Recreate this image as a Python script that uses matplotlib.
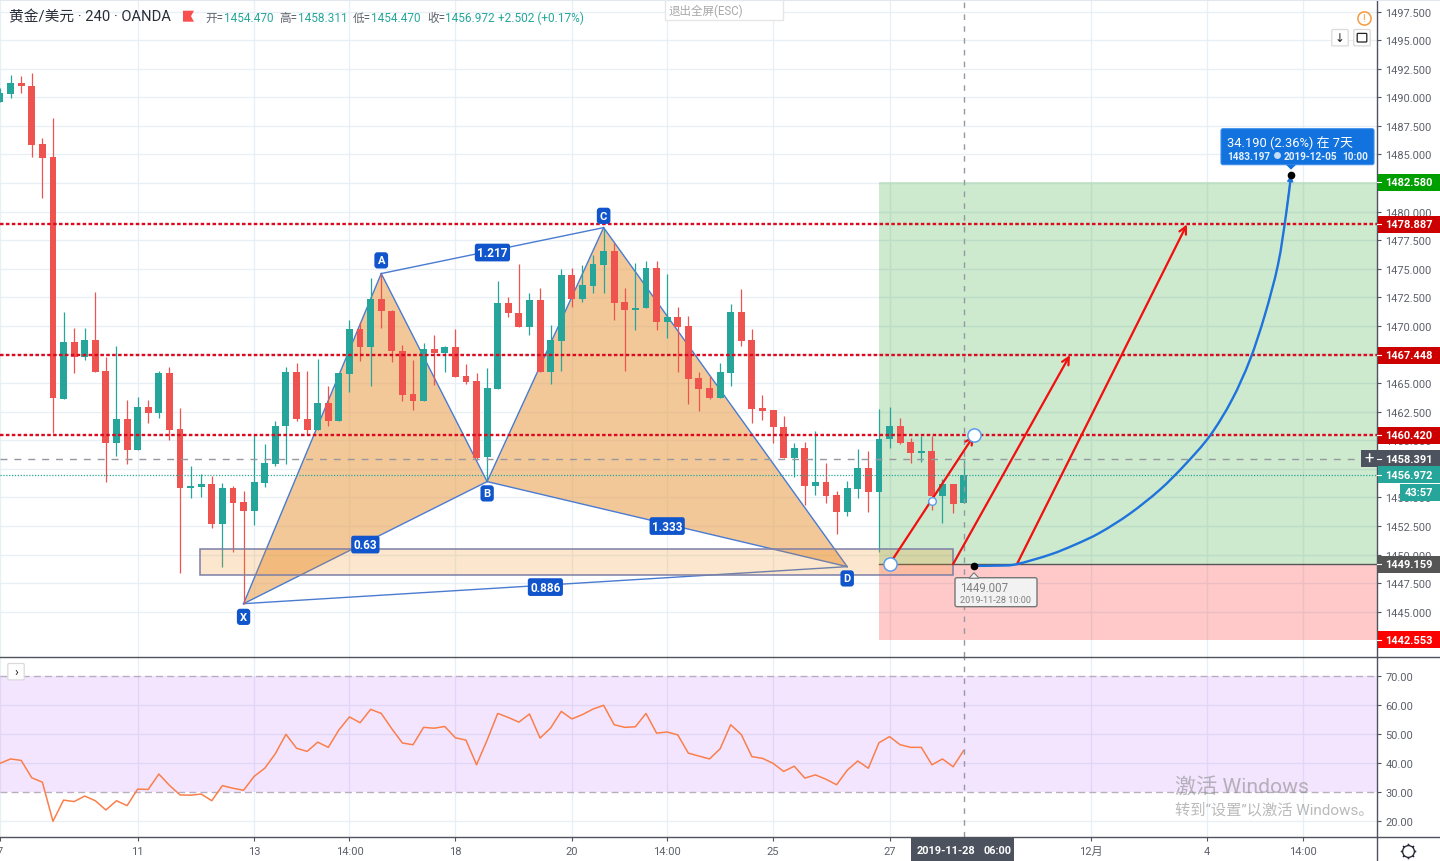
import numpy as np
from matplotlib import pyplot as plt
from matplotlib.patches import Rectangle, FancyBboxPatch, Polygon, PathPatch
from matplotlib.path import Path

plt.rcParams['font.family'] = ['Roboto', 'Noto Sans CJK SC', 'DejaVu Sans']

W, H = 1440, 862
UP = '#26A69A'
DOWN = '#EF5350'
GRID = '#E8F0F6'
AXIS = '#50535E'
TXT = '#5D606B'

# 4h bars
opens = [1489.63, 1490.33, 1491.29, 1491.03, 1485.95, 1484.81, 1463.64, 1468.63, 1467.31, 1468.80,
         1466.09, 1459.79, 1461.89, 1459.18, 1462.94, 1462.41, 1465.91, 1461.01, 1455.85, 1455.94,
         1456.20, 1452.70, 1455.85, 1454.63, 1453.84, 1456.29, 1457.95, 1461.28, 1466.00, 1461.89,
         1460.93, 1463.29, 1461.71, 1465.83, 1469.76, 1468.19, 1472.39, 1471.34, 1467.84, 1464.08,
         1463.46, 1468.01, 1467.66, 1468.19, 1465.65, 1465.21, 1458.56, 1464.51, 1472.04, 1471.16,
         1469.94, 1472.30, 1466.00, 1468.71, 1474.49, 1472.39, 1473.53, 1475.36, 1476.59, 1472.13,
         1471.43, 1471.60, 1475.10, 1470.38, 1470.81, 1470.03, 1465.48, 1464.60, 1463.73, 1465.91,
         1471.25, 1468.80, 1462.85, 1462.68, 1461.19, 1458.48, 1459.35, 1456.03, 1456.38, 1455.24,
         1453.75, 1455.76, 1457.60, 1455.50, 1460.14, 1461.28, 1459.88, 1458.91, 1459.09, 1455.15,
         1456.20, 1454.47]
highs = [1490.85, 1491.99, 1491.90, 1492.16, 1486.48, 1488.23, 1471.25, 1469.85, 1469.85, 1473.00,
         1467.31, 1468.28, 1463.55, 1463.81, 1463.55, 1466.09, 1466.44, 1462.85, 1457.78, 1457.08,
         1456.90, 1456.29, 1456.03, 1455.59, 1460.49, 1459.70, 1461.71, 1466.44, 1466.79, 1466.09,
         1467.14, 1464.78, 1465.91, 1470.55, 1470.38, 1474.23, 1474.58, 1471.43, 1468.36, 1467.05,
         1468.54, 1469.24, 1468.28, 1469.76, 1466.70, 1465.91, 1466.35, 1473.96, 1472.56, 1475.45,
         1472.91, 1473.35, 1470.11, 1475.01, 1475.10, 1475.36, 1476.24, 1478.51, 1477.29, 1473.35,
         1475.54, 1475.71, 1475.71, 1474.58, 1471.69, 1470.90, 1466.00, 1465.65, 1466.79, 1471.95,
         1473.26, 1469.76, 1463.99, 1462.68, 1462.15, 1459.79, 1459.88, 1460.84, 1458.04, 1455.59,
         1456.46, 1459.26, 1459.09, 1462.76, 1462.94, 1461.98, 1460.23, 1460.40, 1460.40, 1456.64,
         1456.20, 1458.311]
lows = [1489.63, 1489.98, 1490.41, 1484.81, 1481.23, 1460.66, 1463.64, 1465.91, 1467.05, 1466.00,
        1456.38, 1458.65, 1457.95, 1459.18, 1461.54, 1461.98, 1460.05, 1448.41, 1454.98, 1455.06,
        1452.35, 1448.94, 1450.25, 1445.70, 1452.61, 1455.94, 1457.78, 1457.95, 1461.71, 1460.49,
        1460.93, 1461.28, 1461.71, 1464.25, 1466.96, 1464.78, 1469.85, 1466.88, 1463.46, 1462.68,
        1463.46, 1464.86, 1466.00, 1465.56, 1464.95, 1458.30, 1456.55, 1464.51, 1470.81, 1469.94,
        1469.24, 1466.00, 1464.95, 1466.09, 1471.69, 1472.13, 1472.91, 1472.91, 1470.55, 1466.09,
        1469.68, 1471.60, 1469.68, 1468.98, 1466.00, 1463.20, 1462.59, 1463.64, 1463.73, 1464.78,
        1468.28, 1461.54, 1461.80, 1459.79, 1458.48, 1456.81, 1454.36, 1455.24, 1454.54, 1451.83,
        1453.40, 1454.98, 1453.75, 1450.25, 1459.35, 1459.70, 1458.04, 1458.13, 1453.93, 1452.79,
        1453.66, 1454.47]
closes = [1490.41, 1491.29, 1491.03, 1485.86, 1484.73, 1463.73, 1468.63, 1467.31, 1468.80, 1466.00,
          1459.79, 1461.89, 1459.18, 1462.94, 1462.41, 1465.91, 1460.93, 1455.85, 1456.03, 1456.20,
          1452.70, 1455.85, 1454.54, 1453.84, 1456.38, 1458.04, 1461.28, 1466.00, 1461.89, 1460.93,
          1463.29, 1461.71, 1465.91, 1469.76, 1468.19, 1472.39, 1471.34, 1467.84, 1463.99, 1463.46,
          1468.01, 1467.66, 1468.19, 1465.56, 1465.13, 1458.48, 1464.60, 1472.04, 1471.16, 1469.94,
          1472.30, 1466.00, 1468.80, 1474.49, 1472.39, 1473.61, 1475.45, 1476.59, 1472.04, 1471.43,
          1471.60, 1475.10, 1470.38, 1470.81, 1469.94, 1465.39, 1464.51, 1463.73, 1466.00, 1471.25,
          1468.71, 1462.76, 1462.59, 1461.19, 1458.48, 1459.35, 1456.03, 1456.38, 1455.15, 1453.75,
          1455.85, 1457.60, 1455.50, 1460.14, 1461.28, 1459.79, 1458.91, 1459.09, 1455.15, 1456.20,
          1454.45, 1456.972]

rsi_vals = [39.9, 41.4, 40.9, 34.9, 33.4, 19.9, 27.2, 26.7, 28.6, 27.0,
            23.8, 27.0, 25.3, 31.0, 30.9, 36.2, 32.3, 29.0, 28.9, 29.3,
            27.0, 32.2, 31.3, 30.6, 35.4, 38.2, 43.2, 49.9, 45.1, 44.0,
            47.2, 45.4, 51.4, 55.9, 53.9, 58.5, 57.1, 51.8, 46.9, 46.3,
            52.3, 52.0, 52.6, 48.7, 47.9, 39.4, 47.9, 57.1, 55.7, 54.1,
            56.9, 48.6, 52.1, 57.8, 55.2, 56.7, 58.6, 59.9, 53.2, 52.3,
            52.5, 57.1, 50.3, 50.7, 49.7, 43.4, 42.4, 41.4, 44.9, 53.2,
            49.8, 42.2, 41.6, 39.9, 37.1, 38.9, 34.8, 35.9, 34.4, 32.5,
            37.5, 40.7, 38.2, 47.0, 49.1, 46.3, 45.4, 45.4, 39.4, 41.4,
            38.7, 44.3]

time_pos = [0, 13, 24, 33, 43, 54, 63, 73, 84, 103, 114, 123]
time_labels = ['7', '11', '13', '14:00', '18', '20', '14:00', '25', '27', '12月', '4', '14:00']

price_ticks = [1445 + 2.5 * k for k in range(22)]
rsi_ticks = [70, 60, 50, 40, 30, 20]

# harmonic pattern points
pat_x = {'X': 23, 'A': 36, 'B': 46, 'C': 57, 'D': 80}
pat_y = {'X': 1445.70, 'A': 1474.58, 'B': 1456.38, 'C': 1478.60, 'D': 1448.94}

# drawings
red_levels = [1478.887, 1467.448, 1460.420]
box_x = [18.9, 90.0]
box_y = [1448.24, 1450.51]
pos_x = 83.0
pos_entry = 1449.159
pos_target = 1482.580
pos_stop = 1442.553
arrow_start_x = [84.0, 90.0, 96.03]
arrow_end_x = [91.97, 101.04, 112.09]
arrow_end_y = [1460.420, 1467.448, 1478.887]
curve_x = [91.97, 94.43, 96.03, 99.15, 101.51, 103.87, 106.70, 109.54, 111.90, 114.26, 116.34, 118.04,
           119.45, 120.68, 121.44, 121.91]
curve_y = [1449.01, 1449.03, 1449.16, 1449.99, 1450.86, 1451.91, 1453.58, 1455.68, 1457.86, 1460.40,
           1463.55, 1467.05, 1470.99, 1475.36, 1479.74, 1483.20]

XMAX = 130.03
YTOP, YBOT = 1498.54, 1441.06
RTOP, RBOT = 76.66, 14.59
CROSS_X = 91.03
CROSS_Y = 1458.391
LAST = 1456.972
SHIFT = 0.7  # everything sat a bit high against the reference


def py(p):
    return (YTOP - p) / (YTOP - YBOT) * 657


def smooth_path(xs, ys):
    # catmull-rom through the read points, so the drawing is not angular
    pts = np.column_stack([xs, ys])
    verts = [pts[0]]
    codes = [Path.MOVETO]
    for i in range(len(pts) - 1):
        p0 = pts[max(i - 1, 0)]
        p1 = pts[i]
        p2 = pts[i + 1]
        p3 = pts[min(i + 2, len(pts) - 1)]
        verts += [p1 + (p2 - p0) / 6, p2 - (p3 - p1) / 6, p2]
        codes += [Path.CURVE4] * 3
    return Path(verts, codes)


fig = plt.figure(figsize=(14.4, 8.62), dpi=100)
ax = fig.add_axes([0, 1 - (657 + SHIFT) / H, 1377 / W, 657 / H])
rsi = fig.add_axes([0, (H - 837 - SHIFT) / H, 1377 / W, 180 / H])

# main pane ------------------------------------------------
ax.set_xlim(0, XMAX)
ax.set_ylim(YBOT, YTOP)
ax.set_axisbelow(True)
for p in price_ticks:
    ax.axhline(p, color=GRID, lw=1, zorder=0.5)
for t in time_pos:
    ax.axvline(t, color=GRID, lw=1, zorder=0.5)

# long position zones
ax.add_patch(Rectangle((pos_x, pos_entry), XMAX - pos_x, pos_target - pos_entry, fc='#4CB050', alpha=0.28, lw=0, zorder=1))
ax.add_patch(Rectangle((pos_x, pos_stop), XMAX - pos_x, pos_entry - pos_stop, fc='#FF0000', alpha=0.21, lw=0, zorder=1))
ax.plot([pos_x, XMAX], [pos_entry, pos_entry], color='#555555', lw=1, zorder=2)

# XABCD triangles
for tri in ['XAB', 'BCD']:
    ax.add_patch(Polygon([(pat_x[k], pat_y[k]) for k in tri], fc='#E8963C', alpha=0.52, lw=0, zorder=1.2))
legs = ['XA', 'AB', 'BC', 'CD', 'XB', 'BD', 'AC', 'XD']
for a, b in legs:
    ax.plot([pat_x[a], pat_x[b]], [pat_y[a], pat_y[b]], color='#4A7BD0', lw=1, zorder=2.5)

# candles
for i in range(len(opens)):
    col = UP if closes[i] >= opens[i] else DOWN
    ax.vlines(i, lows[i], highs[i], color=col, lw=0.9, zorder=3)
    top = max(opens[i], closes[i])
    bot = min(opens[i], closes[i])
    ax.bar(i, max(top - bot, 0.15), bottom=bot, width=0.65, color=col, lw=0, zorder=3.1)

# demand box
ax.add_patch(Rectangle((box_x[0], box_y[0]), box_x[1] - box_x[0], box_y[1] - box_y[0], fc='#F28E1C', ec='none', alpha=0.22, zorder=3.3))
ax.add_patch(Rectangle((box_x[0], box_y[0]), box_x[1] - box_x[0], box_y[1] - box_y[0], fc='none', ec='#7C7FA6', lw=1.1, zorder=3.4))

# levels and crosshair
for lv in red_levels:
    ax.plot([0, XMAX], [lv, lv], color='#DC0A1E', lw=1.7, ls=(0, (1.5, 1.0)), zorder=4)
ax.axhline(CROSS_Y, color='#9598A1', lw=1, ls=(0, (5, 5)), zorder=4)
ax.axhline(LAST, color=UP, lw=0.9, ls=(0, (1, 1.3)), zorder=4)
ax.axvline(CROSS_X, color='#9598A1', lw=1, ls=(0, (4, 4.5)), zorder=4)

# pattern labels
for k, (dx, dy) in {'X': (0, -9.5), 'A': (0, 9.5), 'B': (0, -8.5), 'C': (0, 8.5), 'D': (0, -8.5)}.items():
    ax.annotate(k, (pat_x[k], pat_y[k]), xytext=(dx, dy), textcoords='offset points', ha='center', va='center',
                color='white', fontsize=8, fontweight='bold', zorder=6,
                bbox=dict(boxstyle='round,pad=0.28', fc='#1155CC', ec='none'))
for (a, b), lab in zip(['AC', 'XB', 'BD', 'XD'], ['1.217', '0.63', '1.333', '0.886']):
    ax.annotate(lab, ((pat_x[a] + pat_x[b]) / 2, (pat_y[a] + pat_y[b]) / 2), xytext=(0, -1.4), textcoords='offset points',
                ha='center', va='center', color='white', fontsize=8.5, fontweight='bold', zorder=6,
                bbox=dict(boxstyle='round,pad=0.2', fc='#1155CC', ec='none'))

# red arrows
for x0, x1, y1 in zip(arrow_start_x, arrow_end_x, arrow_end_y):
    ax.annotate('', xy=(x1, y1), xytext=(x0, pos_entry), zorder=5,
                arrowprops=dict(arrowstyle='->', color='#F20F0F', lw=1.6, mutation_scale=13, shrinkA=0, shrinkB=0))

# forecast curve
ax.add_patch(PathPatch(smooth_path(curve_x, curve_y), fc='none', ec='#1E73DC', lw=1.7, zorder=5))
ax.annotate('', xy=(curve_x[-1], curve_y[-1]), xytext=(curve_x[-2], curve_y[-2]), zorder=5,
            arrowprops=dict(arrowstyle='-|>', color='#1E73DC', lw=1, mutation_scale=9, shrinkA=0, shrinkB=0))
ax.plot([curve_x[0], curve_x[-1]], [curve_y[0], curve_y[-1]], 'o', color='black', ms=4.5, zorder=6)

# handles
ax.plot([arrow_start_x[0], arrow_end_x[0]], [pos_entry, arrow_end_y[0]], 'o', mfc='white', mec='#5C9CEE', mew=1.1, ms=9.5, zorder=7)
ax.plot([88], [1454.71], 'o', mfc='white', mec='#5C9CEE', mew=1, ms=5.5, zorder=7)

ax.yaxis.tick_right()
ax.set_yticks(price_ticks)
ax.set_yticklabels(['%.3f' % p for p in price_ticks], fontsize=7.9, color=TXT)
ax.tick_params(axis='y', length=3, width=0.8, color=AXIS, pad=3)
ax.set_xticks([])
for s in ['left', 'top', 'bottom']:
    ax.spines[s].set_visible(False)
ax.spines['right'].set_color(AXIS)
ax.spines['right'].set_linewidth(1)

# rsi pane -------------------------------------------------
rsi.set_xlim(0, XMAX)
rsi.set_ylim(RBOT, RTOP)
rsi.axhspan(30, 70, fc='#9900FF', alpha=0.1, lw=0, zorder=1)
for v in rsi_ticks:
    if v in (70, 30):
        rsi.axhline(v, color='#B9AEC0', lw=1, ls=(0, (5, 3)), zorder=2)
    else:
        rsi.axhline(v, color=GRID, lw=1, zorder=0.5)
for t in time_pos:
    rsi.axvline(t, color=GRID, lw=1, zorder=0.5)
rsi.plot(range(len(rsi_vals)), rsi_vals, color='#FA7F4B', lw=1.1, zorder=3)
rsi.axvline(CROSS_X, color='#9598A1', lw=1, ls=(0, (4, 4.5)), zorder=4)
rsi.yaxis.tick_right()
rsi.set_yticks(rsi_ticks)
rsi.set_yticklabels(['%.2f' % v for v in rsi_ticks], fontsize=7.9, color=TXT)
rsi.tick_params(axis='y', length=3, width=0.8, color=AXIS, pad=3)
rsi.set_xticks(time_pos)
rsi.set_xticklabels(time_labels, fontsize=8, color=TXT)
rsi.tick_params(axis='x', length=3, width=0.8, color=AXIS, pad=3.5)
for s in ['left', 'top', 'bottom']:
    rsi.spines[s].set_visible(False)
rsi.spines['right'].set_color(AXIS)
rsi.spines['right'].set_linewidth(1)

# overlay in screen pixels for the platform chrome ---------
ui = fig.add_axes([0, 0, 1, 1], zorder=10)
ui.set_xlim(0, W)
ui.set_ylim(H - SHIFT, -SHIFT)
ui.axis('off')

ui.plot([0, W], [657, 657], color=AXIS, lw=1)
ui.plot([0, W], [837, 837], color=AXIS, lw=1)
ui.plot([1377, 1377], [837, H], color=AXIS, lw=1)
ui.plot([0, W], [0.3, 0.3], color='#E3E7EE', lw=1.5)

# header
ui.text(9, 17, '黄金/美元 · 240 · OANDA', fontsize=10.6, color='#2A2E39', va='center')
ui.add_patch(Polygon([(183, 11), (194, 11), (191, 16.5), (194, 22), (183, 22)], fc='#F9504F', lw=0))
ohlc_lab = [(205, '开='), (279, '高='), (353, '低='), (427, '收=')]
ohlc_val = [(224, '1454.470'), (298, '1458.311'), (371, '1454.470'), (445, '1456.972')]
for x, s in ohlc_lab:
    ui.text(x, 17.5, s, fontsize=8.4, color='#60636E', va='center')
for x, s in ohlc_val:
    ui.text(x, 17.5, s, fontsize=8.5, color=UP, va='center')
ui.text(498, 17.5, '+2.502 (+0.17%)', fontsize=8.6, color=UP, va='center')

# exit full screen hint
ui.add_patch(Rectangle((665, -2), 118, 22, fc='white', ec='#E6E6E6', lw=1))
ui.text(669, 10.5, '退出全屏(ESC)', fontsize=8.3, color='#A8A8A8', va='center')

# top right buttons
ui.plot([1364], [18], 'o', mfc='white', mec='#F79A3E', mew=1.1, ms=9.5)
ui.text(1364, 18, '!', fontsize=7.5, color='#F79A3E', ha='center', va='center')
for cx in [1340, 1362]:
    ui.add_patch(FancyBboxPatch((cx - 7, 31), 14, 14, boxstyle='round,pad=1.2', fc='white', ec='#DADADA', lw=0.9))
ui.text(1340, 38, '↓', fontsize=8.5, color='#222222', ha='center', va='center', family='DejaVu Sans')
ui.add_patch(FancyBboxPatch((1358, 34.5), 8, 7, boxstyle='round,pad=0.8', fc='white', ec='#222222', lw=0.9))
ui.add_patch(FancyBboxPatch((9, 665), 14, 14, boxstyle='round,pad=1.2', fc='white', ec='#DADADA', lw=0.9))
ui.text(16.5, 671.5, '›', fontsize=9, color='#222222', ha='center', va='center')

# price badges
badges = [(1482.580, '1482.580', '#009F00'), (1478.887, '1478.887', '#CC0000'), (1467.448, '1467.448', '#CC0000'),
          (1460.420, '1460.420', '#CC0000'), (1458.391, '1458.391', '#4C525E'), (1456.972, '1456.972', UP),
          (1449.159, '1449.159', '#555555'), (1442.553, '1442.553', '#FF0000')]
for p, s, c in badges:
    y = py(p)
    ui.add_patch(Rectangle((1378, y - 8.5), 62, 17, fc=c, lw=0))
    ui.plot([1377, 1381], [y, y], color='white', lw=0.8)
    ui.text(1409, y, s, fontsize=7.9, fontweight='bold', color='white', ha='center', va='center')
ui.add_patch(Rectangle((1400, 484), 40, 17, fc=UP, lw=0))
ui.text(1419, 492.5, '43:57', fontsize=7.9, fontweight='bold', color='white', ha='center', va='center')
ui.add_patch(Rectangle((1361, py(CROSS_Y) - 8.5), 16, 17, fc='#4C525E', lw=0))
ui.text(1369, py(CROSS_Y) - 0.5, '+', fontsize=12, color='white', ha='center', va='center')

# date badge
ui.add_patch(Rectangle((911, 838), 103, 24, fc='#4C525E', lw=0))
ui.text(917, 850, '2019-11-28', fontsize=7.9, fontweight='bold', color='white', va='center')
ui.text(983, 850, '06:00', fontsize=7.9, fontweight='bold', color='white', va='center')

# forecast tooltip
ui.add_patch(FancyBboxPatch((1223, 131), 149, 32, boxstyle='round,pad=2', fc='#1272DE', ec='#3C8DEB', lw=0.8))
ui.add_patch(Polygon([(1286, 165), (1296, 165), (1291, 170)], fc='#1272DE', lw=0))
ui.text(1227, 142, '34.190 (2.36%) 在 7天', fontsize=9.3, color='white', va='center')
ui.text(1227, 156, '1483.197', fontsize=7.2, fontweight='bold', color='#E6F0FC', va='center')
ui.plot([1276.5], [155.5], 'o', mfc='#C4DCF8', mec='none', ms=5)
ui.text(1284, 156, '2019-12-05', fontsize=7.2, fontweight='bold', color='#E6F0FC', va='center')
ui.text(1342, 156, '10:00', fontsize=7.2, fontweight='bold', color='#E6F0FC', va='center')

# entry tooltip
ui.add_patch(FancyBboxPatch((957, 580), 78, 25, boxstyle='round,pad=2', fc='#F2F2F2', ec='#767676', lw=1))
ui.add_patch(Polygon([(969, 578.5), (979, 578.5), (974, 573)], fc='#F2F2F2', ec='#767676', lw=0.8))
ui.text(960, 588, '1449.007', fontsize=8.3, color='#808080', va='center')
ui.text(960, 600, '2019-11-28 10:00', fontsize=6.6, color='#808080', va='center')

# settings gear
ui.plot([1408], [851], marker=(8, 2, 0), color='#2A2E39', ms=11, mew=1)
ui.plot([1408], [851], 'o', mfc='white', mec='#2A2E39', mew=1, ms=8.5)

# activation watermark
ui.text(1175, 786, '激活 Windows', fontsize=15.2, color='#8C8C8C', alpha=0.6, va='center')
ui.text(1175, 809.5, '转到“设置”以激活 Windows。', fontsize=11, color='#8C8C8C', alpha=0.6, va='center')

fig.savefig('out.png', dpi=100)
